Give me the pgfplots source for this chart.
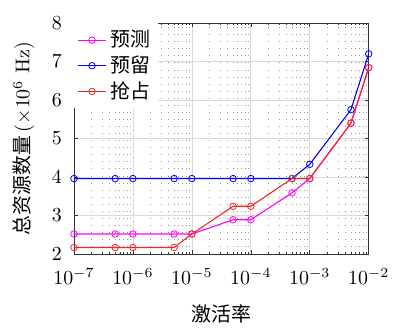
\documentclass[border={3pt 0pt 0pt 5pt}]{standalone}
\usepackage{fontspec}
\newfontfamily\cjk{Noto Sans CJK SC}
\usepackage{pgfplots}
\pgfplotsset{compat=1.18}
\definecolor{mmag}{rgb}{1,0,1}
\definecolor{mblue}{rgb}{0,0,1}
\definecolor{mred}{rgb}{0.95,0.15,0.15}
\begin{document}
\begin{tikzpicture}
\begin{axis}[
  scale only axis, width=148pt, height=116pt,
  xmode=log, xmin=1e-7, xmax=1e-2, ymin=2, ymax=8,
  xtick={1e-7,1e-6,1e-5,1e-4,1e-3,1e-2},
  ytick={2,3,4,5,6,7,8},
  xmajorgrids=true, ymajorgrids=true, xminorgrids=true,
  major grid style={black!15, line width=0.35pt},
  minor grid style={black!40, line width=0.35pt, dash pattern=on 0.35pt off 3.2pt},
  axis line style={black!80, line width=0.4pt},
  tick style={black!80, line width=0.3pt},
  tick align=inside,
  major tick length=2pt, minor tick length=1.2pt,
  tick label style={font=\normalsize},
  xticklabel style={yshift=-3.5pt},
  yticklabel style={xshift=-2.5pt},
  label style={font=\normalsize},
  xlabel={\cjk 激活率},
  xlabel style={yshift=-3.5pt},
  ylabel={{\cjk 总资源数量}\,($\times 10^{6}$ Hz)},
  ylabel style={yshift=2pt},
  legend style={at={(0,1)}, anchor=north west, draw=none, fill=white,
    font=\normalsize\cjk, inner sep=1.5pt, row sep=-1pt},
  legend cell align=left,
  legend image code/.code={
    \draw[#1, mark=none] (0cm,0cm) -- (0.5cm,0cm);
    \draw[#1, only marks] plot coordinates {(0.25cm,0cm)};
  },
  every axis plot/.append style={line width=0.55pt, mark=o, mark size=1.65pt, mark options={line width=0.4pt}},
]
\addplot[mmag] coordinates {
(1e-7,2.52) (5e-7,2.52) (1e-6,2.52) (5e-6,2.52) (1e-5,2.52)
(5e-5,2.89) (1e-4,2.89) (5e-4,3.59) (1e-3,3.96) (5e-3,5.4) (1e-2,6.84)};
\addlegendentry{预测}
\addplot[mblue] coordinates {
(1e-7,3.96) (5e-7,3.96) (1e-6,3.96) (5e-6,3.96) (1e-5,3.96)
(5e-5,3.96) (1e-4,3.96) (5e-4,3.96) (1e-3,4.33) (5e-3,5.75) (1e-2,7.2)};
\addlegendentry{预留}
\addplot[mred] coordinates {
(1e-7,2.17) (5e-7,2.17) (1e-6,2.17) (5e-6,2.17) (1e-5,2.52)
(5e-5,3.24) (1e-4,3.24) (5e-4,3.96) (1e-3,3.96) (5e-3,5.4) (1e-2,6.84)};
\addlegendentry{抢占}
\end{axis}
\end{tikzpicture}
\end{document}
